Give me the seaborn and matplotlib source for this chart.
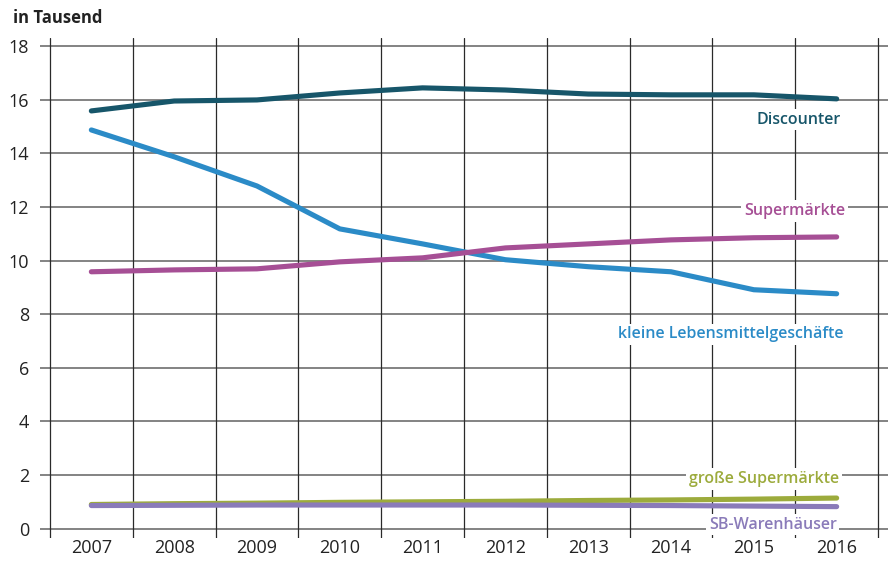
import numpy as np
import pandas as pd
import matplotlib
matplotlib.use("Agg")
import matplotlib.pyplot as plt
import seaborn as sns

# data (in Tausend)
years = [2007, 2008, 2009, 2010, 2011, 2012, 2013, 2014, 2015, 2016]
discounter = [15.58, 15.95, 15.99, 16.25, 16.44, 16.36, 16.21, 16.18, 16.18, 16.03]
kleine = [14.87, 13.87, 12.78, 11.18, 10.62, 10.03, 9.77, 9.58, 8.91, 8.76]
supermaerkte = [9.58, 9.65, 9.69, 9.95, 10.10, 10.47, 10.62, 10.77, 10.85, 10.88]
grosse = [0.90, 0.93, 0.95, 0.98, 1.00, 1.02, 1.05, 1.07, 1.10, 1.14]
sb_waren = [0.86, 0.87, 0.88, 0.88, 0.88, 0.88, 0.87, 0.86, 0.84, 0.82]

series = {
    "Discounter": discounter,
    "kleine Lebensmittelgeschäfte": kleine,
    "Supermärkte": supermaerkte,
    "große Supermärkte": grosse,
    "SB-Warenhäuser": sb_waren,
}
colors = {
    "Discounter": "#17566a",
    "kleine Lebensmittelgeschäfte": "#2b8bc7",
    "Supermärkte": "#a64f95",
    "große Supermärkte": "#9cab3c",
    "SB-Warenhäuser": "#8a7bb9",
}
# label anchor (x in years, y in data units), right aligned
label_pos = {
    "Discounter": (2016.05, 15.25),
    "Supermärkte": (2016.1, 11.85),
    "kleine Lebensmittelgeschäfte": (2016.08, 7.25),
    "große Supermärkte": (2016.03, 1.85),
    "SB-Warenhäuser": (2016.0, 0.15),
}

df = pd.DataFrame(
    [(y, name, v) for name, vals in series.items() for y, v in zip(years, vals)],
    columns=["Jahr", "Typ", "Wert"],
)

sns.set_theme(style="white")
plt.rcParams["font.family"] = ["Open Sans", "DejaVu Sans"]

fig = plt.figure(figsize=(8.93, 5.61), dpi=100)
ax = fig.add_axes([40 / 893, 23 / 561, 848 / 893, 500 / 561])

# grid: horizontal gray, vertical dark between the years
for v in range(0, 19, 2):
    ax.axhline(v, color="#7a7a7a", lw=1.3, zorder=0)
for b in np.arange(2006.5, 2017, 1):
    ax.axvline(b, color="#2a2a2a", lw=0.9, zorder=0)

sns.lineplot(data=df, x="Jahr", y="Wert", hue="Typ", palette=colors,
             linewidth=3.7, legend=False, ax=ax, zorder=3,
             solid_capstyle="round")

for name, (lx, ly) in label_pos.items():
    ax.text(lx, ly, name, ha="right", va="center", color=colors[name],
            fontsize=11.5, fontweight="semibold", zorder=4,
            bbox=dict(facecolor="white", edgecolor="none", pad=2))

ax.set_xlim(2006.38, 2016.62)
ax.set_ylim(-0.35, 18.3)
ax.set_yticks(range(0, 19, 2))
ax.set_xticks(years)
ax.tick_params(axis="both", length=0, labelsize=13, colors="#222222")
ax.tick_params(axis="y", pad=8)
ax.tick_params(axis="x", pad=1)
ax.set_xlabel("")
ax.set_ylabel("")
for s in ax.spines.values():
    s.set_visible(False)

fig.text(13 / 893, 1 - 18 / 561, "in Tausend", ha="left", va="center",
         fontsize=12, fontweight="bold", color="#222222")

fig.savefig("out.png", dpi=100)
